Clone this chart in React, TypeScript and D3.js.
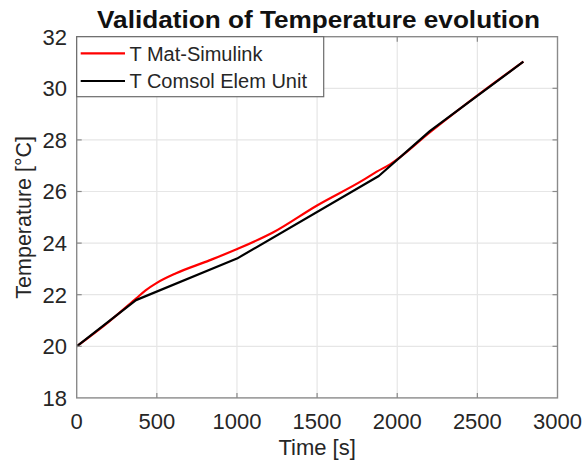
import React from "react";
import * as d3 from "d3";

const title = "Validation of Temperature evolution";
const xLabel = "Time [s]";
const yLabel = "Temperature [°C]";
const seriesNames = ["T Mat-Simulink", "T Comsol Elem Unit"];
const seriesColors = ["#ff0000", "#000000"];

const xTicks = [0, 500, 1000, 1500, 2000, 2500, 3000];
const yTicks = [18, 20, 22, 24, 26, 28, 30, 32];

const simTime = [0, 200, 370, 430, 495, 620, 828, 994, 1227, 1497, 1789, 1872, 1955, 2205, 2517, 2787];
const simTemp = [20.0, 20.95, 21.85, 22.17, 22.44, 22.83, 23.33, 23.75, 24.42, 25.45, 26.45, 26.77, 27.05, 28.3, 29.8, 31.03];

const comTime = [0, 370, 1000, 1885, 2205, 2787];
const comTemp = [20.0, 21.79, 23.4, 26.6, 28.35, 31.03];

const W = 584;
const H = 468;
const L = 76.7, R = 557.5, T = 36.7, B = 397.9;
const FONT = "'Liberation Sans', Arial, Helvetica, sans-serif";
const TXT = "#262626";

export default function App() {
  const x = d3.scaleLinear().domain([0, 3000]).range([L, R]);
  const y = d3.scaleLinear().domain([18, 32]).range([B, T]);
  const smooth = d3
    .line<[number, number]>()
    .x((d) => x(d[0]))
    .y((d) => y(d[1]))
    .curve(d3.curveMonotoneX);
  const straight = d3
    .line<[number, number]>()
    .x((d) => x(d[0]))
    .y((d) => y(d[1]));

  const sim: [number, number][] = simTime.map((t, i) => [t, simTemp[i]]);
  const com: [number, number][] = comTime.map((t, i) => [t, comTemp[i]]);
  const tickLen = 5;

  const legX = L, legY = T, legW = 247, legH = 60;

  return (
    <svg
      width={W}
      height={H}
      style={{ position: "absolute", left: 0, top: 0, background: "#fff" }}
      fontFamily={FONT}
    >
      <rect x={0} y={0} width={W} height={H} fill="#fff" />
      {xTicks.slice(1, -1).map((t) => (
        <line key={"gx" + t} x1={x(t)} x2={x(t)} y1={T} y2={B} stroke="#e6e6e6" strokeWidth={1.2} />
      ))}
      {yTicks.slice(1, -1).map((t) => (
        <line key={"gy" + t} x1={L} x2={R} y1={y(t)} y2={y(t)} stroke="#e6e6e6" strokeWidth={1.2} />
      ))}
      <path d={smooth(sim) || ""} fill="none" stroke={seriesColors[0]} strokeWidth={2.2} strokeLinejoin="round" />
      <path d={straight(com) || ""} fill="none" stroke={seriesColors[1]} strokeWidth={2.2} strokeLinejoin="round" />
      <rect x={L} y={T} width={R - L} height={B - T} fill="none" stroke="#8a8a8a" strokeWidth={1.4} />
      {xTicks.slice(1, -1).map((t) => (
        <g key={"tx" + t}>
          <line x1={x(t)} x2={x(t)} y1={B} y2={B - tickLen} stroke="#8a8a8a" strokeWidth={1.2} />
          <line x1={x(t)} x2={x(t)} y1={T} y2={T + tickLen} stroke="#8a8a8a" strokeWidth={1.2} />
        </g>
      ))}
      {yTicks.slice(1, -1).map((t) => (
        <g key={"ty" + t}>
          <line x1={L} x2={L + tickLen} y1={y(t)} y2={y(t)} stroke="#8a8a8a" strokeWidth={1.2} />
          <line x1={R} x2={R - tickLen} y1={y(t)} y2={y(t)} stroke="#8a8a8a" strokeWidth={1.2} />
        </g>
      ))}
      {xTicks.map((t) => (
        <text key={"lx" + t} x={x(t)} y={429} fontSize={22} fill={TXT} textAnchor="middle">
          {t}
        </text>
      ))}
      {yTicks.map((t) => (
        <text key={"ly" + t} x={67} y={y(t) + 7.8} fontSize={22} fill={TXT} textAnchor="end">
          {t}
        </text>
      ))}
      <text x={(L + R) / 2} y={455} fontSize={22} fill={TXT} textAnchor="middle">
        {xLabel}
      </text>
      <text
        transform={`translate(31,${(T + B) / 2}) rotate(-90)`}
        fontSize={21.5}
        fill={TXT}
        textAnchor="middle"
      >
        {yLabel}
      </text>
      <text
        x={(L + R) / 2 + 1.5}
        y={28}
        fontSize={23}
        fontWeight="bold"
        fill="#111"
        textAnchor="middle"
        textLength={443}
        lengthAdjust="spacingAndGlyphs"
      >
        {title}
      </text>
      <rect x={legX} y={legY} width={legW} height={legH} fill="#fff" stroke="#6b6b6b" strokeWidth={1.2} />
      {seriesNames.map((name, i) => {
        const cy = i === 0 ? 53.3 : 81;
        return (
          <g key={name}>
            <line x1={80.7} x2={125} y1={cy} y2={cy} stroke={seriesColors[i]} strokeWidth={2.2} />
            <text x={129.5} y={cy + 7.2} fontSize={20} fill={TXT}>
              {name}
            </text>
          </g>
        );
      })}
    </svg>
  );
}
